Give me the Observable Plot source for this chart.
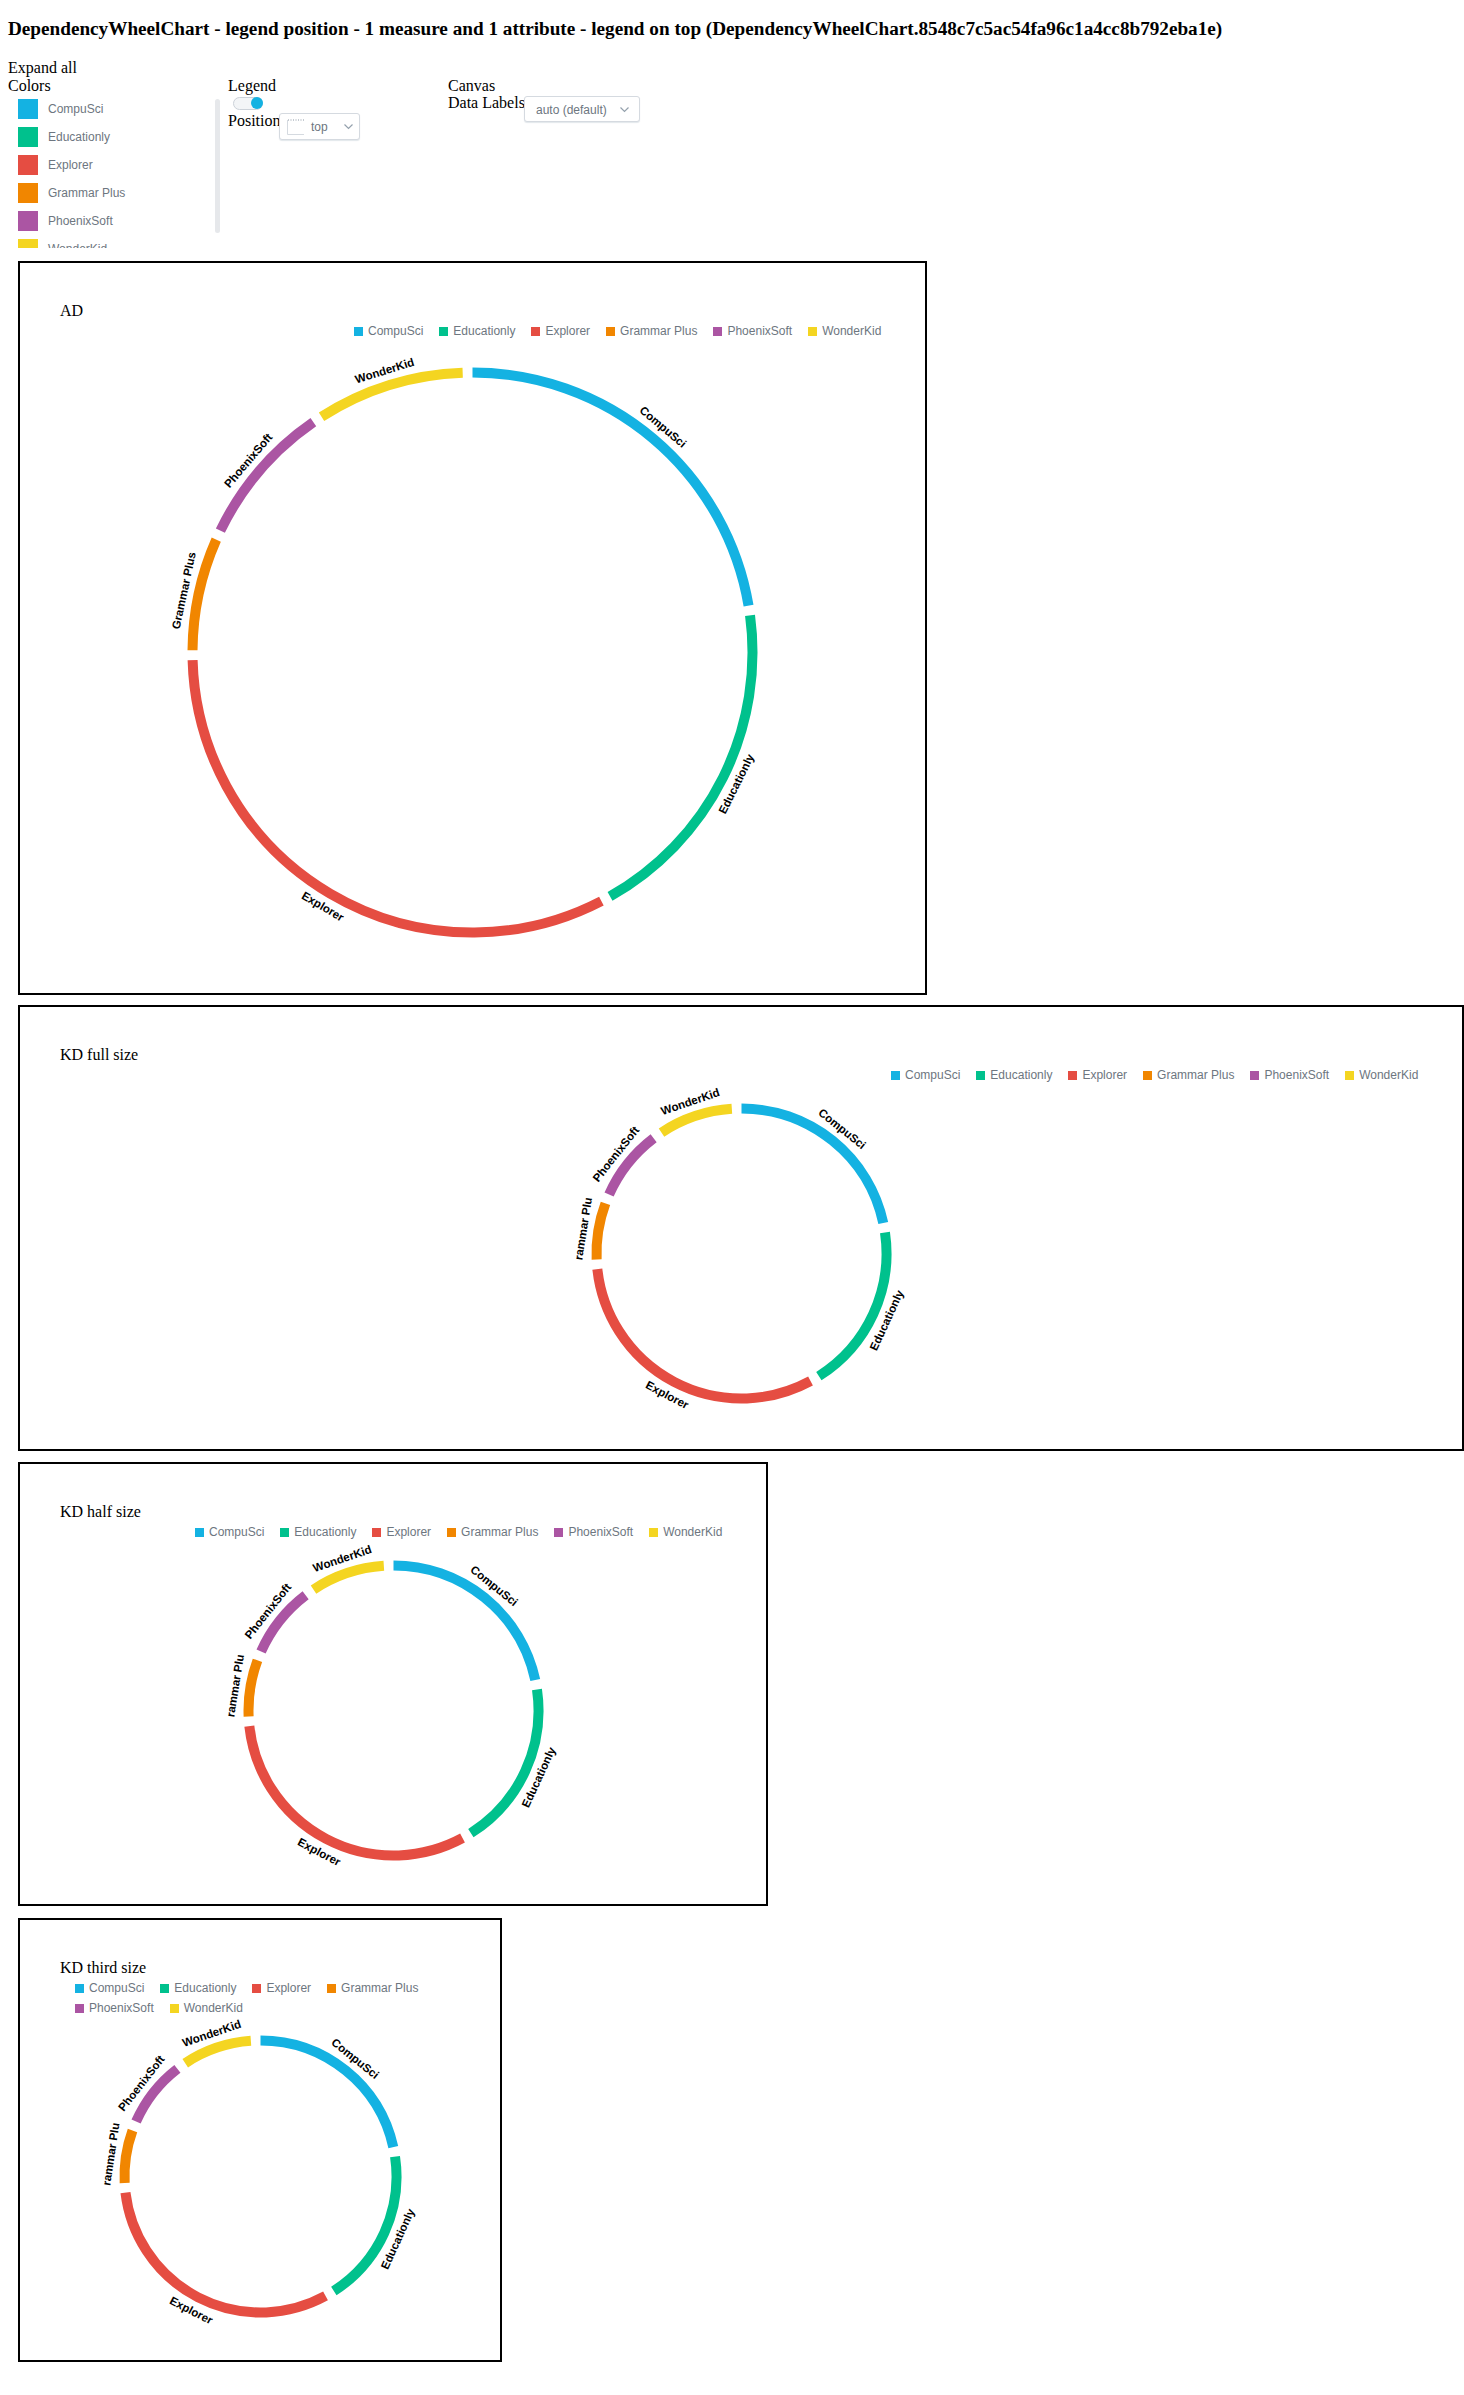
<!DOCTYPE html>
<html>
<head>
<meta charset="utf-8">
<script src="https://cdn.jsdelivr.net/npm/d3@7"></script>
<script src="https://cdn.jsdelivr.net/npm/@observablehq/plot@0.6"></script>
<style>
html,body{margin:0;padding:0;background:#fff;}
body{position:relative;width:1464px;height:2395px;font-family:"Liberation Serif","Times New Roman",serif;color:#000;overflow:hidden;}
.abs{position:absolute;white-space:nowrap;font-size:16px;line-height:18px;}
h3.title{position:absolute;left:8px;top:17.5px;margin:0;font-size:19.2px;line-height:22px;font-weight:bold;white-space:nowrap;}
.clist{position:absolute;left:8px;top:93px;width:214px;height:155px;overflow:hidden;}
.citem{position:absolute;left:10px;height:20px;display:flex;align-items:center;font:12px "Liberation Sans",Arial,sans-serif;color:#6d7680;white-space:nowrap;}
.citem i{display:inline-block;width:20px;height:20px;margin-right:10px;}
.scroll{position:absolute;left:215px;top:99px;width:5px;height:134px;background:#e6e8eb;border-radius:3px;}
.toggle{position:absolute;left:233px;top:97px;width:28px;height:11px;border:1px solid #ccd2d9;border-radius:7px;background:#f3f5f7;}
.toggle b{position:absolute;right:-1px;top:-1px;width:12px;height:12px;border-radius:50%;background:#14b2e2;}
.sel{position:absolute;border:1px solid #d5dae0;border-radius:3px;background:#fff;box-shadow:0 1px 1px rgba(20,56,93,0.12);font:12px "Liberation Sans",Arial,sans-serif;color:#6d7680;box-sizing:border-box;}
.sel span{position:absolute;white-space:nowrap;}
.sel svg{position:absolute;}
.panel{position:absolute;border:2px solid #000;box-sizing:border-box;}
.ptitle{position:absolute;left:40px;top:39px;font-size:16px;line-height:18px;white-space:nowrap;}
.lg{position:absolute;}
.lg > div{margin:0 !important;min-height:0 !important;font:12px "Liberation Sans",Arial,sans-serif !important;color:#6d7680 !important;display:flex;flex-wrap:wrap;align-items:center;}
.lg span{display:inline-flex !important;align-items:center;margin-right:16px !important;line-height:20px;height:20px;}
.lg span svg{margin-right:5px !important;}
.chart{position:absolute;left:0;top:0;}
</style>
</head>
<body>
<h3 class="title">DependencyWheelChart - legend position - 1 measure and 1 attribute - legend on top (DependencyWheelChart.8548c7c5ac54fa96c1a4cc8b792eba1e)</h3>
<div class="abs" style="left:8px;top:58.5px">Expand all</div>
<div class="abs" style="left:8px;top:76.9px">Colors</div>
<div class="abs" style="left:228px;top:76.9px">Legend</div>
<div class="abs" style="left:448px;top:76.9px">Canvas</div>
<div class="abs" style="left:448px;top:93.9px">Data Labels</div>
<div class="abs" style="left:228px;top:112.2px">Position</div>
<div class="clist" id="clist"></div>
<div class="scroll"></div>
<div class="toggle"><b></b></div>
<div class="sel" style="left:279px;top:113px;width:81px;height:27px">
  <svg style="left:7px;top:5px" width="18" height="16"><line x1="1" y1="1" x2="17" y2="1" stroke="#8a96a3" stroke-width="1" stroke-dasharray="1,1.5"/><polyline points="0.5,1 0.5,15.5 17,15.5" fill="none" stroke="#d5dae0" stroke-width="1"/></svg>
  <span style="left:31px;top:6px">top</span>
  <svg style="left:64px;top:10px" width="9" height="6"><polyline points="0.5,0.5 4.5,4.5 8.5,0.5" fill="none" stroke="#94a1ad" stroke-width="1.2"/></svg>
</div>
<div class="sel" style="left:524px;top:96px;width:116px;height:26px">
  <span style="left:11px;top:5.5px">auto (default)</span>
  <svg style="left:95px;top:10px" width="9" height="6"><polyline points="0.5,0.5 4.5,4.5 8.5,0.5" fill="none" stroke="#94a1ad" stroke-width="1.2"/></svg>
</div>
<div id="panels"></div>
<script>
// ---- data ----
const categories = ["CompuSci", "Educationly", "Explorer", "Grammar Plus", "PhoenixSoft", "WonderKid"];
const values = [231, 196, 333, 67, 85, 88];
const colors = ["#14b2e2", "#00c18d", "#e54d42", "#f18600", "#ab55a3", "#f4d521"];
const labelsAD = ["CompuSci", "Educationly", "Explorer", "Grammar Plus", "PhoenixSoft", "WonderKid"];
const labelsKD = ["CompuSci", "Educationly", "Explorer", "rammar Plu", "PhoenixSoft", "WonderKid"];
const panelTitles = ["AD", "KD full size", "KD half size", "KD third size"];

// ---- colors list in the control area ----
const clist = document.getElementById("clist");
categories.forEach((c, i) => {
  const d = document.createElement("div");
  d.className = "citem";
  d.style.top = (6 + 28 * i) + "px";
  d.innerHTML = `<i style="background:${colors[i]}"></i>${c}`;
  clist.appendChild(d);
});

// ---- panel layout ----
const layouts = [
  {left: 18, top: 261, w: 909, h: 734, cx: 452, cy: 389, r: 285, lgLeft: 334, lgWidth: 580, labels: labelsAD},
  {left: 18, top: 1005, w: 1446, h: 446, cx: 721, cy: 246, r: 150, lgLeft: 871, lgWidth: 580, labels: labelsKD},
  {left: 18, top: 1462, w: 750, h: 444, cx: 373, cy: 246, r: 150, lgLeft: 175, lgWidth: 580, labels: labelsKD},
  {left: 18, top: 1918, w: 484, h: 444, cx: 240, cy: 256, r: 141, lgLeft: 55, lgWidth: 400, labels: labelsKD}
];

function wheel(p) {
  const W = p.w - 4, H = p.h - 4;
  const ring = 10;
  const rMid = p.r - ring / 2;
  const padDeg = 10 / p.r * 180 / Math.PI;
  const total = d3.sum(values);
  const avail = 360 - padDeg * values.length;
  const rad = (d) => d * Math.PI / 180;
  let acc = 0;
  const nodes = categories.map((name, i) => {
    const span = values[i] / total * avail;
    const a0 = acc, a1 = acc + span;
    acc = a1 + padDeg;
    const mid = (a0 + a1) / 2;
    const lr = (p.r + 10) / rMid;
    const rot = (mid > 90 && mid < 270) ? mid - 180 : (mid >= 270 ? mid - 360 : mid);
    return {
      name, label: p.labels[i], value: values[i], span,
      x1: Math.sin(rad(a0)), y1: Math.cos(rad(a0)),
      x2: Math.sin(rad(a1)), y2: Math.cos(rad(a1)),
      lx: lr * Math.sin(rad(mid)), ly: lr * Math.cos(rad(mid)), rot
    };
  });
  const s = rMid;
  return Plot.plot({
    width: W, height: H, margin: 0,
    style: {background: "transparent", overflow: "visible"},
    x: {type: "linear", domain: [-p.cx / s, (W - p.cx) / s], range: [0, W], axis: null},
    y: {type: "linear", domain: [-(H - p.cy) / s, p.cy / s], range: [H, 0], axis: null},
    color: {domain: categories, range: colors},
    marks: [
      ...nodes.map((n) => Plot.arrow([n], {
        x1: "x1", y1: "y1", x2: "x2", y2: "y2",
        bend: n.span / 2, headLength: 0,
        stroke: "name", strokeWidth: ring, strokeLinecap: "butt"
      })),
      Plot.text(nodes, {
        x: "lx", y: "ly", text: "label", rotate: "rot",
        fontSize: 11.5, fontWeight: "bold", fontFamily: "Liberation Sans, Arial, sans-serif",
        fill: "#000", stroke: "#fff", strokeWidth: 2,
        textAnchor: "middle", lineAnchor: "middle"
      })
    ]
  });
}

const host = document.getElementById("panels");
layouts.forEach((p, k) => {
  const div = document.createElement("div");
  div.className = "panel";
  Object.assign(div.style, {left: p.left + "px", top: p.top + "px", width: p.w + "px", height: p.h + "px"});
  const svg = wheel(p);
  svg.classList.add("chart");
  div.appendChild(svg);
  const t = document.createElement("div");
  t.className = "ptitle";
  t.textContent = panelTitles[k];
  div.appendChild(t);
  const lg = document.createElement("div");
  lg.className = "lg";
  Object.assign(lg.style, {left: p.lgLeft + "px", top: "58px", width: p.lgWidth + "px"});
  lg.appendChild(Plot.legend({color: {type: "ordinal", domain: categories, range: colors}, swatchSize: 9}));
  div.appendChild(lg);
  host.appendChild(div);
});
</script>
</body>
</html>
